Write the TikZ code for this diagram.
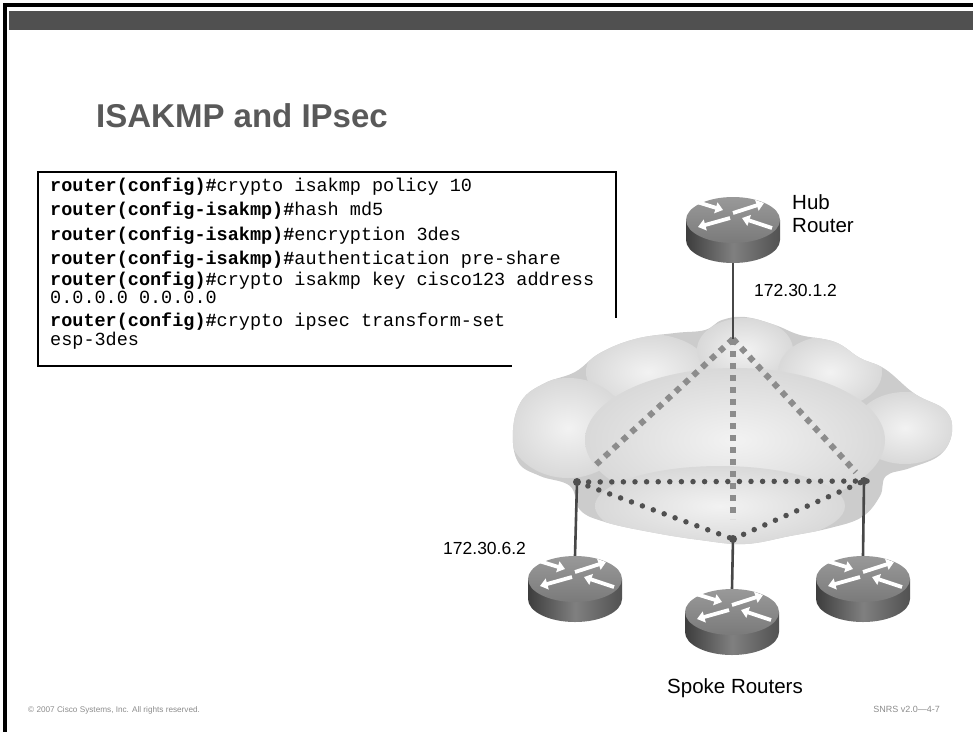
\documentclass[tikz,border=0pt]{standalone}
\usepackage{fontspec}
\setmainfont{Liberation Sans}
\newfontfamily\codefont{Liberation Mono}
\usetikzlibrary{arrows.meta,positioning}

\definecolor{slidebar}{HTML}{505050}
\definecolor{tunnelgray}{HTML}{8C8C8C}
\definecolor{dotgray}{HTML}{505050}

\tikzset{
% Router: flat cylinder with the four arrows on top
router arrow/.style={white,line width=3.8pt,-{Triangle[width=11pt,length=7.5pt]}},
router/.pic={
  \node[minimum width=95pt,minimum height=66pt,inner sep=0pt] (-body) {};
  \shade[left color=black!76,right color=black!68,middle color=black!50]
    (-47,-10) -- (-47,10) arc[start angle=180,end angle=0,x radius=47,y radius=23]
    -- (47,-10) -- cycle;
  \shade[top color=black!40,bottom color=black!52] (0,-10) ellipse[x radius=47,y radius=23];
  \foreach \from/\to in {{-36,-28}/{-10,-20},{0,-17}/{31,-27},{-3,-12}/{-35,-3},{39,-2}/{9,-12}}
    \draw[router arrow] (\from) -- (\to);
},
% code lines; a wrapped command is one node, placed by its last baseline
code/.style={font=\codefont\fontsize{18.5}{14.5}\selectfont,anchor=base west,inner sep=0pt,align=left},
ip label/.style={font=\fontsize{17.5}{20}\selectfont,inner sep=0pt},
name label/.style={font=\fontsize{20.5}{23}\selectfont,inner sep=0pt,align=left},
footer/.style={text=black!45,inner sep=0pt},
tunnel line/.style={tunnelgray,line width=6pt,dash pattern=on 6pt off 6pt},
spoke dots/.style={dotgray,line width=5.5pt,line cap=round,dash pattern=on 0pt off 11.6pt},
link/.style={black!72,line width=2.6pt}
}

\begin{document}
\begin{tikzpicture}[x=1pt,y=-1pt]
\useasboundingbox (0,0) rectangle (973,732);
% slide frame and header bar
\fill[black] (3,3) rectangle (973,7);
\fill[black] (3,3) rectangle (7,732);
\fill[slidebar] (9,11) rectangle (973,30);
\node[anchor=base west,inner sep=0pt,text=black!65,font=\fontsize{33}{38}\selectfont\bfseries] (title) at (96,127) {ISAKMP and IPsec};

% configuration box
\draw[line width=2.6pt] (38,172) rectangle (616,366);
\foreach \y/\txt [count=\i] in {
  191/{\textbf{router(config)\#}crypto isakmp policy 10},
  215/{\textbf{router(config-isakmp)\#}hash md5},
  240/{\textbf{router(config-isakmp)\#}encryption 3des},
  264/{\textbf{router(config-isakmp)\#}authentication pre-share},
  303/{\textbf{router(config)\#}crypto isakmp key cisco123 address\\0.0.0.0 0.0.0.0},
  345/{\textbf{router(config)\#}crypto ipsec transform-set\\esp-3des}}
  \node[code] (cmd\i) at (50,\y) {\txt};

% cloud with its white backing
\fill[white] (512,318) rectangle (630,372);
\begin{scope}
  \clip plot[smooth cycle,tension=0.65] coordinates {
    (513,430) (522,400) (545,383) (575,372) (600,353) (635,339) (675,333)
    (705,330) (722,320) (745,317) (775,325) (800,335) (835,342) (860,358)
    (885,369) (915,394) (945,410) (952,432) (940,455) (910,468) (886,476)
    (880,496) (862,517) (830,528) (790,536) (745,544) (700,540) (650,532)
    (605,522) (580,510) (570,486) (540,476) (518,462)};
  \fill[black!20] (500,310) rectangle (960,560);
  \foreach \cx/\cy/\rx/\ry in {648/372/62/38, 745/350/48/32, 830/372/52/36,
      905/428/50/36, 568/428/60/50, 735/440/150/72, 720/506/125/40}
    \shade[inner color=black!5,outer color=black!15] (\cx,\cy) ellipse[x radius=\rx,y radius=\ry];
\end{scope}

% tunnel end points
\coordinate (hubpt) at (733,339);
\coordinate (leftpt) at (577,482);
\coordinate (rightpt) at (864,481);
\coordinate (midpt) at (733,539);

% hub-and-spoke tunnels
\draw[tunnel line,shorten >=20pt] (hubpt) -- (midpt);
\draw[tunnel line,shorten >=26pt] (hubpt) -- (leftpt);
\draw[tunnel line,shorten >=12pt] (hubpt) -- (rightpt);

% spoke-to-spoke tunnels
\draw[spoke dots] (leftpt) -- ([xshift=13pt]rightpt);
\draw[spoke dots] (leftpt) -- (midpt);
\draw[spoke dots] (midpt) -- (rightpt);

% routers
\pic (hub) at (733,230) {router};
\pic (spokeA) at (575,589) {router};
\pic (spokeB) at (732,622) {router};
\pic (spokeC) at (863,589) {router};

\draw[link] (hub-body.south) -- (hubpt);
\draw[link] (leftpt) -- (spokeA-body.north);
\draw[link] (midpt) -- (spokeB-body.north);
\draw[link] (rightpt) -- (spokeC-body.north);
\foreach \p in {leftpt,midpt,rightpt}
  \fill[dotgray] (\p) circle (4);

% labels
\node[name label,anchor=north west] (hubname) at (792,194) {Hub\\Router};
\node[ip label,anchor=base west] (hubip) at (754,296) {172.30.1.2};
\node[ip label,anchor=base west] (spokeip) at (443,554) {172.30.6.2};
\node[name label,anchor=base] (spokename) at (735,693) {Spoke Routers};

% footer
\node[footer,anchor=base west,font=\fontsize{8.2}{10}\selectfont] (copyright) at (28,712) {© 2007 Cisco Systems, Inc. All rights reserved.};
\node[footer,anchor=base east,font=\fontsize{9}{10}\selectfont] (slideno) at (940,712) {SNRS v2.0—4-7};
\end{tikzpicture}
\end{document}
